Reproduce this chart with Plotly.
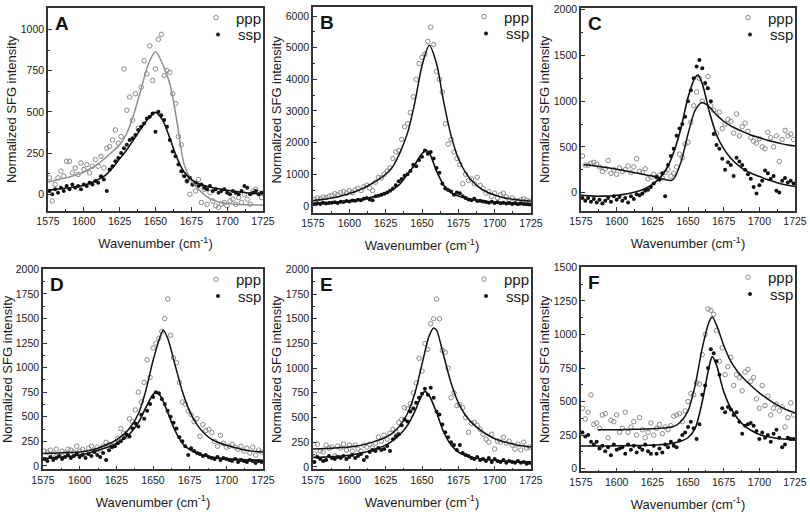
import plotly.graph_objects as go

# ---------------- data ----------------
WAVENUMBER = [1576, 1578, 1580, 1582, 1584, 1586, 1588, 1590, 1592, 1594,
              1596, 1598, 1600, 1602, 1604, 1606, 1608, 1610, 1612, 1614,
              1616, 1618, 1620, 1622, 1624, 1626, 1628, 1630, 1632, 1634,
              1636, 1638, 1640, 1642, 1644, 1646, 1648, 1650, 1652, 1654,
              1656, 1658, 1660, 1662, 1664, 1666, 1668, 1670, 1672, 1674,
              1676, 1678, 1680, 1682, 1684, 1686, 1688, 1690, 1692, 1694,
              1696, 1698, 1700, 1702, 1704, 1706, 1708, 1710, 1712, 1714,
              1716, 1718, 1720, 1722, 1724]

A_PPP = [100, -40, 60, 100, 140, 110, 200, 200, 130, 160,
         120, 190, 150, 180, 130, 170, 210, 170, 230, 160,
         280, 290, 330, 390, 310, 350, 760, 510, 590, 450,
         610, 400, 650, 810, 730, 900, 690, 760, 940, 970,
         720, 750, 740, 610, 550, 350, 300, 120, 80, 0,
         60, 20, 90, -50, 30, -60, 10, -40, -70, -80,
         -60, -50, -70, -40, -30, -60, -20, -50, 0, -30,
         -60, 20, 30, 10, -20]
A_SSP = [20, 0, 30, 10, 40, 20, 50, 30, 60, 40,
         50, 30, 60, 50, 70, 60, 80, 70, 110, 90,
         20, 150, 170, 200, 220, 250, 280, 300, 330, 340,
         360, 390, 410, 430, 460, 470, 490, 380, 500, 480,
         450, 410, 330, 260, 230, 180, 140, 110, 80, 100,
         60, 70, 50, 60, 40, 30, 50, 20, 30, 10,
         20, 30, 10, 0, 20, 10, 0, 20, 50, 40,
         0, 10, 20, 0, 10]

B_PPP = [200, 250, 230, 280, 260, 300, 330, 380, 350, 420,
         450, 400, 480, 420, 500, 550, 480, 600, 650, 560,
         480, 750, 900, 880, 1000, 1100, 1200, 1500, 1700, 1750,
         2100, 2500, 2600, 2950, 3450, 4000, 4500, 4700, 4800, 5200,
         5650, 5100, 4250, 4000, 3600, 2600, 1950, 2100, 1700, 1500,
         1300, 700, 1000, 800, 850, 700, 900, 650, 550, 400,
         450, 300, 400, 250, 350, 400, 280, 200, 250, 180,
         150, 200, 220, 180, 150]
B_SSP = [50, 80, 60, 100, 70, 90, 100, 110, 90, 130,
         120, 150, 140, 170, 160, 190, 180, 220, 250, 200,
         180, 300, 320, 350, 380, 420, 480, 550, 650, 780,
         850, 950, 1000, 1100, 1300, 1250, 1450, 1550, 1750, 1650,
         1700, 1500, 1200, 1050, 700, 550, 500, 450, 350, 420,
         400, 300, 250, 200, 180, 220, 150, 160, 140, 120,
         100, 130, 90, 110, 80, 100, 70, 90, 60, 80,
         50, 70, 60, 50, 40]

C_PPP = [400, 300, 300, 320, 330, 310, 280, 230, 260, 350,
         210, 250, 200, 270, 230, 250, 290, 220, 280, 370,
         230, 220, 260, 150, 170, 200, 170, 190, 160, 220,
         250, 180, 210, 280, 420, 380, 530, 550, 770, 950,
         1100, 1250, 1000, 1150, 1270, 950, 900, 650, 880, 700,
         750, 800, 780, 650, 860, 620, 720, 760, 670, 600,
         560, 540, 590, 500, 480, 660, 600, 500, 620, 340,
         580, 680, 620, 640, 580]
C_SSP = [-60, -90, -60, -100, -70, -110, -80, -120, -90, -60,
         -100, -40, -80, -50, -90, -60, -110, -40, -70, -20,
         -30, -10, 20, 30, 60, 100, 170, 140, 210, -40,
         300, 400, 480, 620, 700, 750, 830, 1000, 1120, 1250,
         1380, 1450, 1360, 1200, 1140, 1000, 640, 520, 480, 370,
         250, 330, 300, 180, 380, 340, 300, 250, 200, 150,
         60, -10, 80, 130, 240, 210, 150, 180, 20, 0,
         130, 160, 110, 130, 100]

D_PPP = [150, 140, 160, 120, 170, 110, 150, 130, 170, 160,
         140, 200, 150, 170, 130, 180, 200, 150, 190, 160,
         200, 240, 220, 200, 230, 280, 380, 330, 300, 480,
         450, 570, 750, 650, 850, 1080, 900, 1200, 1250, 1300,
         1370, 1500, 1700, 1330, 1100, 1050, 850, 650, 630, 560,
         520, 450, 480, 300, 420, 360, 370, 340, 250, 200,
         310, 230, 190, 200, 220, 190, 170, 200, 150, 180,
         130, 190, 110, 160, 140]
D_SSP = [70, 50, 90, 60, 80, 100, 70, 90, 110, 80,
         100, 120, 90, 110, 80, 120, 100, 140, 110, 90,
         130, 60, 160, 190, 200, 230, 250, 280, 320, 300,
         380, 430, 400, 520, 480, 560, 630, 700, 750, 740,
         680, 630, 560, 500, 440, 380, 290, 250, 200, 110,
         180, 150, 130, 120, 100, 110, 90, 80, 70, 90,
         60, 80, 70, 60, 50, 70, 40, 60, 50, 40,
         60, 50, 30, 50, 40]

E_PPP = [130, 230, 160, 150, 220, 190, 200, 110, 210, 190,
         230, 170, 220, 160, 220, 180, 160, 220, 200, 230,
         190, 240, 300, 260, 320, 280, 340, 380, 360, 450,
         480, 600, 590, 640, 750, 850, 1100, 970, 1250, 1190,
         1450, 1500, 1700, 1500, 1180, 1160, 1000, 700, 750, 620,
         630, 600, 500, 350, 440, 450, 420, 380, 330, 280,
         250, 330, 180, 260, 250, 300, 240, 260, 220, 180,
         230, 170, 250, 190, 200]
E_SSP = [50, 100, 80, 60, 70, 110, 90, 80, 100, 90,
         110, 80, 100, 120, 90, 110, 130, 70, 100, 150,
         170, 160, 190, 170, 180, 210, 160, 280, 310, 330,
         420, 480, 460, 560, 590, 650, 700, 740, 790, 730,
         800, 700, 560, 530, 430, 350, 300, 250, 220, 170,
         220, 140, 120, 110, 90, 80, 100, 70, 80, 60,
         90, 50, 80, 60, 50, 70, 40, 60, 50, 40,
         60, 40, 50, 30, 40]

F_PPP = [450, 370, 420, 550, 330, 340, 300, 400, 410, 230,
         360, 350, 400, 270, 300, 420, 270, 310, 350, 250,
         380, 290, 230, 270, 340, 250, 300, 330, 260, 310,
         290, 320, 390, 400, 410, 350, 430, 500, 560, 550,
         640, 630, 850, 1000, 1190, 1180, 1150, 1030, 800, 900,
         700, 760, 830, 620, 700, 680, 580, 720, 740, 650,
         680, 520, 450, 620, 470, 540, 400, 450, 480, 430,
         460, 310, 380, 490, 400]
F_SSP = [270, 240, 250, 200, 180, 200, 150, 170, 130, 160,
         100, 180, 140, 150, 160, 110, 180, 140, 170, 120,
         160, 140, 180, 130, 110, 170, 110, 150, 120, 180,
         160, 200, 170, 160, 210, 250, 270, 310, 350, 300,
         220, 330, 550, 620, 750, 890, 860, 800, 700, 450,
         420, 460, 440, 400, 420, 350, 260, 320, 330, 340,
         320, 280, 220, 270, 230, 250, 200, 260, 290, 230,
         160, 180, 230, 220, 220]

# fitted curves
FIT_X5 = [1575, 1580, 1585, 1590, 1595, 1600, 1605, 1610, 1615, 1620,
          1625, 1630, 1635, 1640, 1645, 1650, 1655, 1660, 1665, 1670,
          1675, 1680, 1685, 1690, 1695, 1700, 1705, 1710, 1715, 1720, 1725]

A_PPP_FIT = [75, 85, 95, 105, 118, 135, 158, 185, 220, 260,
             300, 370, 490, 640, 790, 865, 790, 670, 440, 180,
             85, 30, -10, -35, -48, -55, -60, -62, -64, -65, -65]
A_SSP_FIT = [25, 30, 35, 40, 47, 55, 70, 90, 115, 160,
             215, 270, 335, 400, 460, 497, 450, 340, 220, 135,
             90, 65, 50, 40, 32, 25, 18, 12, 8, 5, 4]

B_PPP_FIT = [170, 195, 225, 265, 320, 390, 470, 570, 690, 830,
             1000, 1250, 1700, 2300, 3250, 4430, 5080, 4500, 3270, 2220,
             1500, 1050, 760, 560, 430, 340, 270, 220, 190, 165, 147]
B_SSP_FIT_X = [1575, 1580, 1585, 1590, 1595, 1600, 1605, 1610, 1615, 1620,
               1625, 1630, 1635, 1640, 1645, 1650, 1653, 1655, 1660, 1665, 1670,
               1675, 1680, 1685, 1690, 1695, 1700, 1705, 1710, 1715, 1720, 1725]
B_SSP_FIT = [70, 80, 95, 110, 130, 150, 180, 220, 270, 320,
             390, 510, 700, 1000, 1300, 1650, 1750, 1680, 1100, 650, 420,
             310, 240, 190, 160, 130, 110, 95, 85, 75, 68, 60]

C_PPP_FIT_X = [1577, 1580, 1585, 1590, 1595, 1600, 1605, 1610, 1615, 1620,
               1625, 1630, 1635, 1638, 1640, 1645, 1650, 1655, 1660, 1665,
               1670, 1675, 1680, 1685, 1690, 1695, 1700, 1705, 1710, 1715, 1720, 1725]
C_PPP_FIT = [305, 300, 290, 280, 268, 255, 240, 225, 210, 195,
             180, 160, 138, 132, 150, 330, 640, 900, 985, 935,
             850, 780, 730, 690, 655, 625, 600, 575, 555, 535, 520, 510]
C_SSP_FIT_X = [1575, 1580, 1585, 1590, 1595, 1600, 1605, 1610, 1615, 1620,
               1625, 1630, 1635, 1640, 1645, 1650, 1655, 1657, 1660, 1665,
               1670, 1675, 1680, 1685, 1690, 1695, 1700, 1705, 1710, 1715, 1720, 1725]
C_SSP_FIT = [-30, -35, -40, -40, -38, -30, -20, -5, 15, 45,
             90, 155, 260, 440, 700, 1040, 1260, 1285, 1190, 880,
             630, 480, 375, 300, 245, 205, 175, 145, 120, 95, 80, 65]

D_PPP_FIT_X = [1575, 1580, 1585, 1590, 1595, 1600, 1605, 1610, 1615, 1620,
               1625, 1630, 1635, 1640, 1645, 1650, 1655, 1657, 1660, 1665,
               1670, 1675, 1680, 1685, 1690, 1695, 1700, 1705, 1710, 1715, 1720, 1725]
D_PPP_FIT = [125, 128, 131, 134, 137, 142, 152, 170, 195, 225,
             265, 320, 400, 530, 760, 1070, 1320, 1380, 1300, 1030,
             760, 555, 420, 330, 270, 235, 210, 190, 170, 155, 145, 140]
D_SSP_FIT_X = [1575, 1580, 1585, 1590, 1595, 1600, 1605, 1610, 1615, 1620,
               1625, 1630, 1635, 1640, 1645, 1650, 1652, 1655, 1660, 1665,
               1670, 1675, 1680, 1685, 1690, 1695, 1700, 1705, 1710, 1715, 1720, 1725]
D_SSP_FIT = [75, 80, 86, 92, 100, 110, 125, 145, 170, 195,
             228, 275, 340, 440, 590, 725, 748, 715, 545, 360,
             230, 165, 128, 105, 90, 80, 74, 68, 64, 60, 58, 56]

E_PPP_FIT_X = [1575, 1580, 1585, 1590, 1595, 1600, 1605, 1610, 1615, 1620,
               1625, 1630, 1635, 1640, 1645, 1650, 1655, 1658, 1660, 1665,
               1670, 1675, 1680, 1685, 1690, 1695, 1700, 1705, 1710, 1715, 1720, 1725]
E_PPP_FIT = [180, 183, 186, 190, 195, 200, 210, 225, 245, 270,
             300, 345, 420, 540, 740, 1040, 1330, 1407, 1385, 1120,
             850, 650, 520, 435, 375, 325, 285, 260, 240, 222, 210, 200]
E_SSP_FIT_X = D_SSP_FIT_X
E_SSP_FIT = [95, 97, 100, 104, 110, 117, 130, 145, 165, 190,
             220, 265, 330, 420, 560, 730, 765, 720, 550, 350,
             220, 150, 115, 95, 82, 72, 66, 60, 56, 53, 51, 50]

F_PPP_FIT_X = [1587, 1590, 1595, 1600, 1605, 1610, 1615, 1620, 1625, 1630,
               1635, 1640, 1645, 1650, 1655, 1660, 1665, 1667, 1670, 1675,
               1680, 1685, 1690, 1695, 1700, 1705, 1710, 1715, 1720, 1725]
F_PPP_FIT = [290, 290, 290, 290, 291, 292, 293, 295, 297, 300,
             305, 315, 350, 430, 620, 900, 1100, 1130, 1070, 920,
             800, 720, 660, 610, 565, 525, 490, 460, 435, 415]
F_SSP_FIT_X = [1575, 1580, 1585, 1590, 1595, 1600, 1605, 1610, 1615, 1620,
               1625, 1630, 1635, 1640, 1645, 1650, 1655, 1660, 1665, 1667,
               1670, 1675, 1680, 1685, 1690, 1695, 1700, 1705, 1710, 1715, 1720, 1725]
F_SSP_FIT = [168, 168, 168, 169, 169, 170, 170, 171, 172, 173,
             175, 178, 182, 190, 205, 230, 300, 500, 770, 835,
             770, 575, 450, 370, 315, 280, 255, 240, 230, 222, 218, 215]

X_TICKS = [1575, 1600, 1625, 1650, 1675, 1700, 1725]
PANEL_LABELS = ["A", "B", "C", "D", "E", "F"]
SERIES_NAMES = ["ppp", "ssp"]

# ---------------- styling / layout ----------------
W, H = 810, 518
FONT = "Liberation Sans, Arial, Helvetica, sans-serif"

panels = [
    dict(ppp=A_PPP, ssp=A_SSP, pfx=FIT_X5, pfy=A_PPP_FIT, sfx=FIT_X5, sfy=A_SSP_FIT,
         yr=[-100, 1130], dt=250, box=(48, 263, 5, 209), pcol="#8f8f8f"),
    dict(ppp=B_PPP, ssp=B_SSP, pfx=FIT_X5, pfy=B_PPP_FIT, sfx=B_SSP_FIT_X, sfy=B_SSP_FIT,
         yr=[-220, 6290], dt=1000, box=(313, 531, 4, 211), pcol="#111111"),
    dict(ppp=C_PPP, ssp=C_SSP, pfx=C_PPP_FIT_X, pfy=C_PPP_FIT, sfx=C_SSP_FIT_X, sfy=C_SSP_FIT,
         yr=[-200, 2020], dt=500, box=(581, 795, 5, 209), pcol="#111111"),
    dict(ppp=D_PPP, ssp=D_SSP, pfx=D_PPP_FIT_X, pfy=D_PPP_FIT, sfx=D_SSP_FIT_X, sfy=D_SSP_FIT,
         yr=[-35, 2000], dt=250, box=(43, 263, 268, 469), pcol="#111111"),
    dict(ppp=E_PPP, ssp=E_SSP, pfx=E_PPP_FIT_X, pfy=E_PPP_FIT, sfx=E_SSP_FIT_X, sfy=E_SSP_FIT,
         yr=[-25, 2000], dt=250, box=(313, 531, 268, 469), pcol="#111111"),
    dict(ppp=F_PPP, ssp=F_SSP, pfx=F_PPP_FIT_X, pfy=F_PPP_FIT, sfx=F_SSP_FIT_X, sfy=F_SSP_FIT,
         yr=[-20, 1500], dt=250, box=(581, 795, 266, 471), pcol="#111111"),
]

fig = go.Figure()
layout = dict(
    width=W, height=H,
    margin=dict(l=0, r=0, t=0, b=0),
    paper_bgcolor="white", plot_bgcolor="white",
    font=dict(family=FONT, color="#1a1a1a", size=11),
    showlegend=True,
    annotations=[],
)


def legend_name(k):
    return "legend" if k == 1 else f"legend{k}"


for i, p in enumerate(panels):
    n = i + 1
    xa = "x" if n == 1 else f"x{n}"
    ya = "y" if n == 1 else f"y{n}"
    lg_p = legend_name(2 * n - 1)
    lg_s = legend_name(2 * n)
    l, r, t, b = p["box"]

    fig.add_trace(go.Scatter(x=WAVENUMBER, y=p["ppp"], mode="markers", name=SERIES_NAMES[0],
                             xaxis=xa, yaxis=ya, legend=lg_p,
                             marker=dict(symbol="circle-open", size=4.5, color="#8a8a8a",
                                         line=dict(width=1, color="#8a8a8a"))))
    fig.add_trace(go.Scatter(x=WAVENUMBER, y=p["ssp"], mode="markers", name=SERIES_NAMES[1],
                             xaxis=xa, yaxis=ya, legend=lg_s,
                             marker=dict(symbol="circle", size=4, color="#111111")))
    fig.add_trace(go.Scatter(x=p["pfx"], y=p["pfy"], mode="lines", showlegend=False,
                             xaxis=xa, yaxis=ya, hoverinfo="skip",
                             line=dict(color=p["pcol"], width=1.5, shape="spline", smoothing=0.8)))
    fig.add_trace(go.Scatter(x=p["sfx"], y=p["sfy"], mode="lines", showlegend=False,
                             xaxis=xa, yaxis=ya, hoverinfo="skip",
                             line=dict(color="#111111", width=1.6, shape="spline", smoothing=0.8)))

    xkey = "xaxis" if n == 1 else f"xaxis{n}"
    ykey = "yaxis" if n == 1 else f"yaxis{n}"
    layout[xkey] = dict(
        domain=[l / W, r / W], anchor=ya, range=[1575, 1725], automargin=False,
        tickvals=X_TICKS, ticklabeloverflow="allow",
        ticks="inside", ticklen=4, tickwidth=1, tickcolor="#333",
        minor=dict(ticks="inside", ticklen=2, dtick=12.5, tick0=1575, tickcolor="#333"),
        showline=True, linewidth=1.5, linecolor="#333", mirror=True,
        showgrid=False, zeroline=False,
        tickfont=dict(size=10.5, family=FONT, color="#1a1a1a"),
        title=dict(text="Wavenumber (cm<sup>-1</sup>)", font=dict(size=13, family=FONT, color="#1a1a1a"),
                   standoff=13),
    )
    layout[ykey] = dict(
        domain=[1 - b / H, 1 - t / H], anchor=xa, range=p["yr"], automargin=False,
        tick0=0, dtick=p["dt"], ticks="inside", ticklen=4, tickwidth=1, tickcolor="#333",
        ticklabeloverflow="allow",
        minor=dict(ticks="inside", ticklen=2, dtick=p["dt"] / 2, tick0=0, tickcolor="#333"),
        showline=True, linewidth=1.5, linecolor="#333", mirror=True,
        showgrid=False, zeroline=False,
        tickfont=dict(size=10.5, family=FONT, color="#1a1a1a"),
        title=dict(text="Normalized SFG intensity", font=dict(size=13, family=FONT, color="#1a1a1a"),
                   standoff=1),
    )
    for lg, dy in ((lg_p, 10), (lg_s, 27)):
        layout[lg] = dict(
            x=(r + 4) / W, xanchor="right", y=1 - (t + dy) / H, yanchor="middle",
            bgcolor="rgba(0,0,0,0)", borderwidth=0,
            font=dict(size=15, family=FONT, color="#1a1a1a"),
        )
    layout["annotations"].append(dict(
        text=f"<b>{PANEL_LABELS[i]}</b>", xref="paper", yref="paper",
        x=(l + 5) / W, y=1 - (t + 3) / H, xanchor="left", yanchor="top",
        showarrow=False, font=dict(size=19, family=FONT, color="#111111"),
    ))

fig.update_layout(**layout)
fig.write_html("out.html", config={"displayModeBar": False},
               post_script="document.body.style.margin='0';document.body.style.overflow='hidden';")
